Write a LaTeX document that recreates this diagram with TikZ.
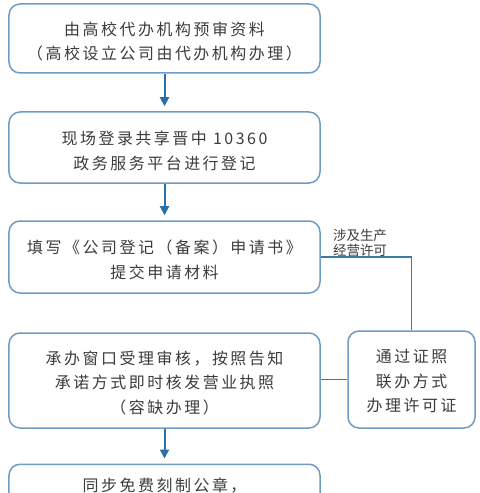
\documentclass[tikz,border=0pt]{standalone}
\usepackage{fontspec}
\usetikzlibrary{arrows.meta}
\newfontfamily\cjk[LetterSpace=16]{Noto Sans CJK SC}
\newfontfamily\cjksmall{Noto Sans CJK SC}
\definecolor{boxborder}{HTML}{6F9CC4}
\definecolor{arrowblue}{HTML}{2B6FA8}
\definecolor{linkblue}{HTML}{3A7CA5}
\definecolor{txtgray}{HTML}{3C3C3C}
\tikzset{
  box/.style={draw=boxborder, line width=1.5bp, rounded corners=11bp, fill=white, inner sep=0pt},
  boxtext/.style={align=center, text=txtgray, font=\cjk\fontsize{16}{25}\selectfont, inner sep=0pt},
  flowarrow/.style={draw=arrowblue, line width=2bp, -{Triangle[length=9bp,width=9bp]}, shorten >=5bp},
  linkline/.style={draw=linkblue, line width=1.6bp},
  smalllabel/.style={align=left, text=txtgray, font=\cjksmall\fontsize{13.5}{14.5}\selectfont, inner sep=0pt}
}
\begin{document}
\begin{tikzpicture}[x=1bp,y=-1bp]
\useasboundingbox (0,0) rectangle (480,493);
\clip (0,0) rectangle (480,493);
% boxes
\node[box, minimum width=311bp, minimum height=69bp] (b1) at (164.5,38.5) {};
\node[box, minimum width=311bp, minimum height=71bp] (b2) at (164.5,147.5) {};
\node[box, minimum width=311bp, minimum height=72bp] (b3) at (164.5,257) {};
\node[box, minimum width=311bp, minimum height=95bp] (b4) at (164.5,380.5) {};
\node[box, minimum width=127bp, minimum height=97bp] (rb) at (411.5,379.5) {};
\node[box, minimum width=311bp, minimum height=80bp, anchor=north] (b5) at (164.5,463.5) {};
% texts
\node[boxtext] (t1) at ([yshift=-3bp]b1.center) {由高校代办机构预审资料\\（高校设立公司由代办机构办理）};
\node[boxtext] (t2) at ([yshift=-3bp]b2.center) {现场登录共享晋中 10360\\政务服务平台进行登记};
\node[boxtext] (t3) at ([yshift=-3bp]b3.center) {填写《公司登记（备案）申请书》\\提交申请材料};
\node[boxtext] (t4) at ([yshift=-2.5bp]b4.center) {承办窗口受理审核，按照告知\\承诺方式即时核发营业执照\\（容缺办理）};
\node[boxtext] (trb) at ([yshift=-1.5bp]rb.center) {通过证照\\联办方式\\办理许可证};
\node[boxtext] (t5) at (164.5,486) {同步免费刻制公章，};
\node[smalllabel] (lbl) at (360,243) {涉及生产\\经营许可};
% connectors
\draw[flowarrow] (b1.south) -- (b2.north);
\draw[flowarrow] (b2.south) -- (b3.north);
\draw[flowarrow] (b4.south) -- (b5.north);
\draw[linkline] (b3.east) -| (rb.north);
\draw[linkline] (rb.west) -- (rb.west -| b4.east);
\end{tikzpicture}
\end{document}
